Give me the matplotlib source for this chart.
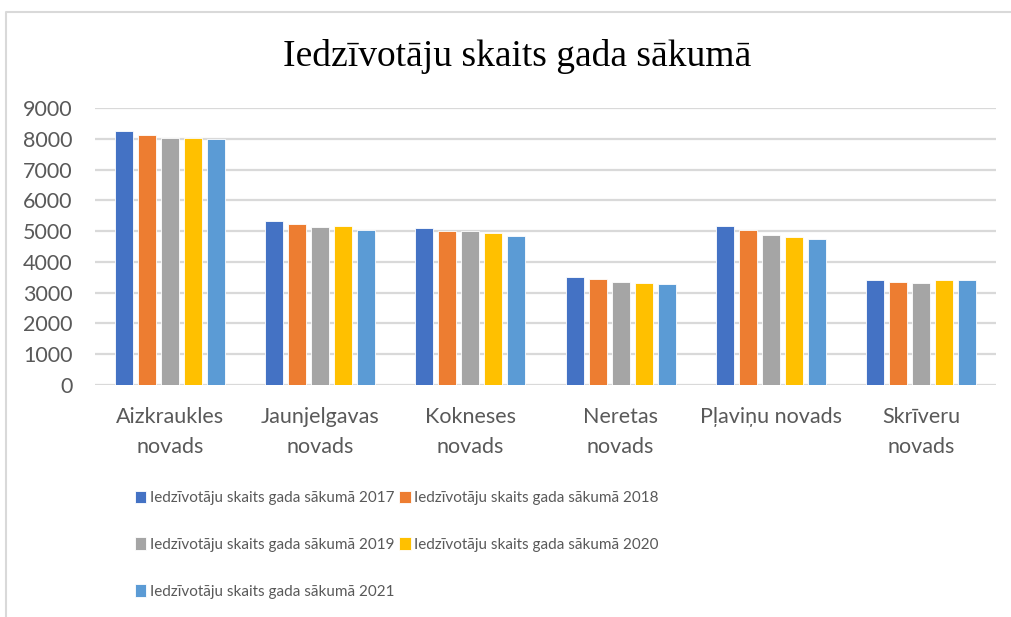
import numpy as np
import matplotlib.pyplot as plt
from matplotlib.lines import Line2D

# dati
categories = ["Aizkraukles\nnovads", "Jaunjelgavas\nnovads", "Kokneses\nnovads",
              "Neretas\nnovads", "Pļaviņu novads", "Skrīveru\nnovads"]
years = ["2017", "2018", "2019", "2020", "2021"]
v2017 = [8240, 5320, 5090, 3500, 5160, 3405]
v2018 = [8120, 5245, 5015, 3440, 5030, 3350]
v2019 = [8030, 5125, 5005, 3360, 4885, 3330]
v2020 = [8020, 5170, 4930, 3330, 4810, 3405]
v2021 = [8000, 5030, 4845, 3285, 4755, 3405]
series = [v2017, v2018, v2019, v2020, v2021]
colors = ["#4472C4", "#ED7D31", "#A5A5A5", "#FFC000", "#5B9BD5"]

font = ["Lato", "DejaVu Sans"]
txt_color = "#595959"

fig = plt.figure(figsize=(10.12, 6.17), dpi=100)
ax = fig.add_axes([95 / 1012, 1 - 385 / 617, (996 - 95) / 1012, (385 - 108) / 617])

x = np.arange(len(categories))
bw = 0.12
step = 0.153
bars = []
for i, (vals, c) in enumerate(zip(series, colors)):
    off = (i - 2) * step
    b = ax.bar(x + off, vals, width=bw, color=c, edgecolor="white", linewidth=0.6, zorder=3)
    bars.append(b)

ax.set_xlim(-0.5, len(categories) - 0.5)
ax.set_ylim(0, 9000)
ax.set_yticks(np.arange(0, 9001, 1000))
ax.yaxis.grid(True, color="#d9d9d9", linewidth=1.6, zorder=0)
for s in ax.spines.values():
    s.set_visible(False)
ax.tick_params(axis="both", length=0, labelcolor=txt_color, labelsize=15.5)
ax.tick_params(axis="y", pad=16)
ax.tick_params(axis="x", pad=16)
ax.set_xticks(x)
ax.set_xticklabels(categories, linespacing=1.62)
for lbl in ax.get_xticklabels() + ax.get_yticklabels():
    lbl.set_family(font)

fig.text(517 / 1012, 1 - 56 / 617, "Iedzīvotāju skaits gada sākumā",
         ha="center", va="center", fontsize=27, family=["Liberation Serif", "DejaVu Serif"],
         color="black")

# legenda (rindās pa divām)
labels = ["Iedzīvotāju skaits gada sākumā " + y for y in years]
order = [0, 2, 4, 1, 3]
leg = fig.legend([bars[i] for i in order], [labels[i] for i in order],
                 ncol=2, loc="upper left", bbox_to_anchor=(121 / 1012, 1 - 477 / 617),
                 frameon=False, prop={"family": font, "size": 11},
                 handlelength=0.75, handleheight=0.9, handletextpad=0.25,
                 columnspacing=0.3, labelspacing=2.1, labelcolor=txt_color)

# rāmis
fig.add_artist(Line2D([6.5 / 1012, 6.5 / 1012, 1], [0, 1 - 12 / 617, 1 - 12 / 617],
                      transform=fig.transFigure, color="#d9d9d9", linewidth=1.5))

fig.savefig("out.png", dpi=100)
